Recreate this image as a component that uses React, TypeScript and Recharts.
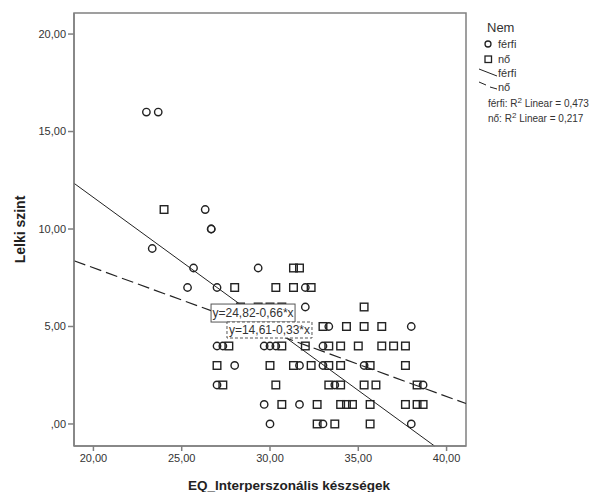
import React from 'react';
import { ScatterChart, Scatter, XAxis, YAxis, ReferenceLine, ReferenceArea, ReferenceDot, Label } from 'recharts';

// férfi = circles, nő = squares; x = EQ_Interperszonális készségek, y = Lelki szint
const ferfiPoints: [number, number][] = [
  [23.0, 16], [23.67, 16], [26.33, 11], [26.67, 10], [26.67, 10], [23.33, 9],
  [25.67, 8], [29.33, 8], [25.33, 7], [27.0, 7], [32.0, 7], [32.0, 6],
  [33.33, 5], [38.0, 5], [27.0, 4], [27.33, 4], [29.67, 4], [30.0, 4], [30.33, 4], [33.0, 4],
  [28.0, 3], [31.67, 3], [33.0, 3], [35.33, 3], [27.0, 2], [33.67, 2], [38.67, 2],
  [29.67, 1], [31.67, 1], [30.0, 0], [33.0, 0], [38.0, 0],
];

const noPoints: [number, number][] = [
  [24.0, 11], [31.33, 8], [31.67, 8], [28.0, 7], [30.33, 7], [31.33, 7], [32.33, 7],
  [28.33, 6], [29.33, 6], [30.0, 6], [30.67, 6], [35.33, 6],
  [33.0, 5], [34.33, 5], [35.33, 5], [36.33, 5],
  [27.67, 4], [30.67, 4], [32.0, 4], [33.33, 4], [34.0, 4], [35.0, 4], [36.33, 4], [37.0, 4], [37.67, 4],
  [27.0, 3], [30.0, 3], [31.33, 3], [32.33, 3], [33.33, 3], [34.0, 3], [35.67, 3], [37.67, 3],
  [27.33, 2], [30.33, 2], [33.33, 2], [34.0, 2], [35.33, 2], [36.0, 2], [38.33, 2],
  [30.67, 1], [32.67, 1], [34.0, 1], [34.33, 1], [34.67, 1], [35.67, 1], [37.67, 1], [38.33, 1], [38.67, 1],
  [32.67, 0], [33.67, 0], [35.67, 0],
];

// intercept, slope
const ferfiFit = [24.82, -0.66];
const noFit = [14.61, -0.33];
const fitLabels = ['y=24,82-0,66*x', 'y=14,61-0,33*x'];
const rSquared = ['0,473', '0,217'];

const xTicks = [20, 25, 30, 35, 40];
const yTicks = [0, 5, 10, 15, 20];
const X_DOMAIN: [number, number] = [18.9, 41.1];
const Y_DOMAIN: [number, number] = [-1.13, 21.08];

const FONT = 'Arial, "Liberation Sans", sans-serif';
const AXIS = '#808080';
const INK = '#222';

const fmt = (v: number) => (v === 0 ? ',00' : v.toFixed(2).replace('.', ','));
const toRows = (pts: [number, number][]) => pts.map(([x, y]) => ({ x, y }));

// clip a fitted line y = a + b*x to the plot domain
const segment = ([a, b]: number[]) => {
  const pts: { x: number; y: number }[] = [];
  const push = (x: number, y: number) => {
    if (x >= X_DOMAIN[0] - 1e-9 && x <= X_DOMAIN[1] + 1e-9 && y >= Y_DOMAIN[0] - 1e-9 && y <= Y_DOMAIN[1] + 1e-9) pts.push({ x, y });
  };
  push(X_DOMAIN[0], a + b * X_DOMAIN[0]);
  push(X_DOMAIN[1], a + b * X_DOMAIN[1]);
  push((Y_DOMAIN[0] - a) / b, Y_DOMAIN[0]);
  push((Y_DOMAIN[1] - a) / b, Y_DOMAIN[1]);
  return pts.slice(0, 2);
};

const CircleMark = (p: any) => <circle cx={p.cx} cy={p.cy} r={3.7} fill="none" stroke={INK} strokeWidth={1.4} />;
const SquareMark = (p: any) => (
  <rect x={p.cx - 3.8} y={p.cy - 3.8} width={7.6} height={7.6} fill="none" stroke={INK} strokeWidth={1.4} />
);

const fitBox = (text: string, w: number, h: number, dashed: boolean) => (p: any) => (
  <g>
    <rect x={p.cx - w / 2} y={p.cy - h / 2} width={w} height={h} fill="#fff" stroke="#555" strokeWidth={1}
      strokeDasharray={dashed ? '3 2' : undefined} />
    <text x={p.cx} y={p.cy + 4} textAnchor="middle" fontSize={12} fontFamily={FONT} fill="#333">{text}</text>
  </g>
);

const Legend = () => (
  <svg width={133} height={130} style={{ position: 'absolute', left: 470, top: 0 }} fontFamily={FONT}>
    <text x={17} y={32} fontSize={13} fill="#333">Nem</text>
    <circle cx={18} cy={44} r={3} fill="none" stroke={INK} strokeWidth={1.3} />
    <text x={28} y={48} fontSize={11} fill="#333">férfi</text>
    <rect x={15} y={56} width={6.5} height={6.5} fill="none" stroke={INK} strokeWidth={1.3} />
    <text x={28} y={63} fontSize={11} fill="#333">nő</text>
    <line x1={9} y1={69} x2={27} y2={76} stroke={INK} strokeWidth={1} />
    <text x={28} y={77} fontSize={11} fill="#333">férfi</text>
    <line x1={9} y1={82} x2={16} y2={85} stroke={INK} strokeWidth={1} />
    <line x1={20} y1={87} x2={27} y2={89} stroke={INK} strokeWidth={1} />
    <text x={28} y={91} fontSize={11} fill="#333">nő</text>
    <text x={18} y={107} fontSize={10} fill="#333">férfi: R<tspan dy={-4} fontSize={8}>2</tspan><tspan dy={4}> Linear = {rSquared[0]}</tspan></text>
    <text x={18} y={122} fontSize={10} fill="#333">nő: R<tspan dy={-4} fontSize={8}>2</tspan><tspan dy={4}> Linear = {rSquared[1]}</tspan></text>
  </svg>
);

const App = () => {
  return (
    <div style={{ position: 'absolute', left: 0, top: 0, width: 603, height: 492, background: '#fff' }}>
      <ScatterChart width={603} height={492} margin={{ top: 13, right: 137, left: 14, bottom: 0 }}>
        <ReferenceArea x1={X_DOMAIN[0]} x2={X_DOMAIN[1]} y1={Y_DOMAIN[0]} y2={Y_DOMAIN[1]}
          fill="none" stroke={AXIS} strokeWidth={1.5} fillOpacity={0} />
        <XAxis type="number" dataKey="x" domain={X_DOMAIN} ticks={xTicks} allowDataOverflow height={46}
          tickFormatter={fmt} stroke={AXIS} strokeWidth={1.5} tickSize={5} tickMargin={3}
          tick={{ fill: '#333', fontSize: 11, fontFamily: FONT }}>
          <Label content={(p: any) => (
            <text x={p.viewBox.x + p.viewBox.width / 2 + 19} y={p.viewBox.y + 44} textAnchor="middle"
              fontSize={13.5} fontWeight="bold" fontFamily={FONT} fill="#222">EQ_Interperszonális készségek</text>
          )} />
        </XAxis>
        <YAxis type="number" dataKey="y" domain={Y_DOMAIN} ticks={yTicks} allowDataOverflow width={60}
          tickFormatter={fmt} stroke={AXIS} strokeWidth={1.5} tickSize={6} tickMargin={2}
          tick={{ fill: '#333', fontSize: 11, fontFamily: FONT }}>
          <Label content={(p: any) => {
            const x = p.viewBox.x + 11;
            const y = p.viewBox.y + p.viewBox.height / 2;
            return (
              <text x={x} y={y} transform={`rotate(-90 ${x} ${y})`} textAnchor="middle"
                fontSize={14} fontWeight="bold" fontFamily={FONT} fill="#222">Lelki szint</text>
            );
          }} />
        </YAxis>
        <Scatter data={toRows(ferfiPoints)} shape={CircleMark} isAnimationActive={false} />
        <Scatter data={toRows(noPoints)} shape={SquareMark} isAnimationActive={false} />
        <ReferenceLine segment={segment(ferfiFit)} stroke={INK} strokeWidth={1} />
        <ReferenceLine segment={segment(noFit)} stroke={INK} strokeWidth={1.2} strokeDasharray="12 5" />
        <ReferenceDot x={29.04} y={5.69} r={0} shape={fitBox(fitLabels[0], 84, 18, false)} />
        <ReferenceDot x={29.97} y={4.82} r={0} shape={fitBox(fitLabels[1], 85, 16, true)} />
      </ScatterChart>
      <Legend />
    </div>
  );
};

export default App;
